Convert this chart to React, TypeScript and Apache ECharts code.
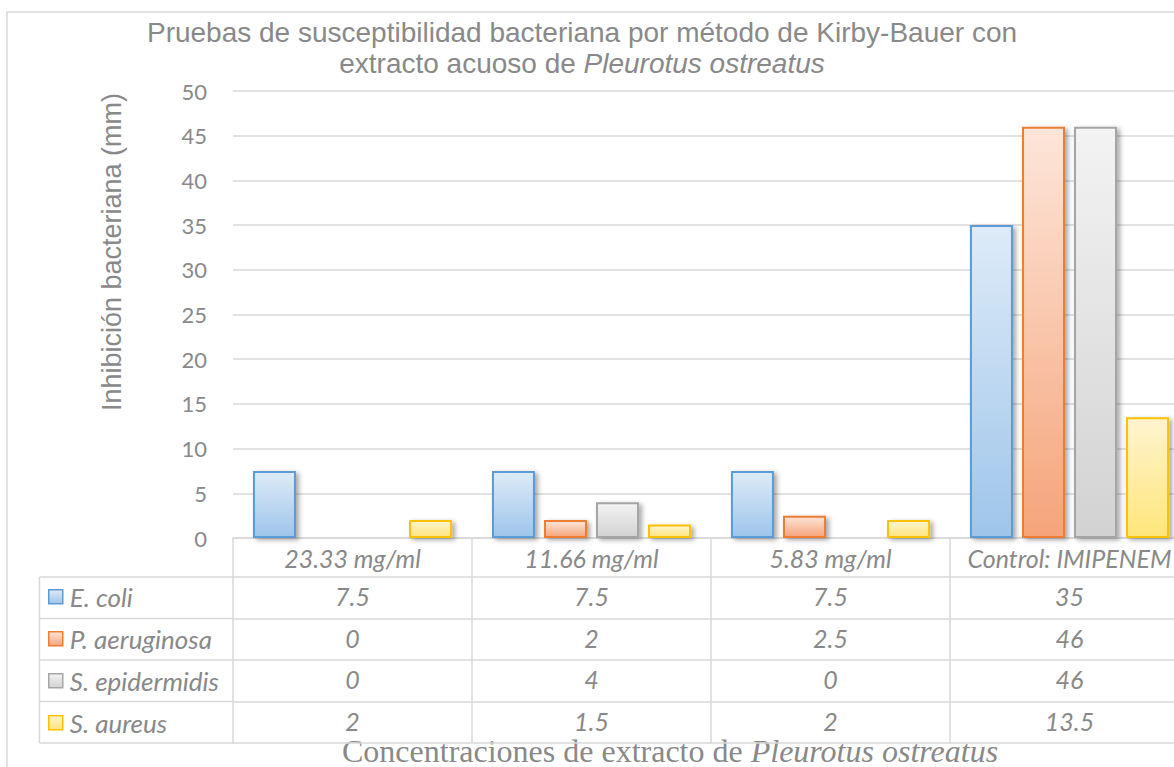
import React, { useEffect, useRef } from "react";
import * as echarts from "echarts";

const categories = ["23.33 mg/ml", "11.66 mg/ml", "5.83 mg/ml", "Control: IMIPENEM"];
const seriesNames = ["E. coli", "P. aeruginosa", "S. epidermidis", "S. aureus"];
const eColi = [7.5, 7.5, 7.5, 35];
const pAeruginosa = [0, 2, 2.5, 46];
const sEpidermidis = [0, 4, 0, 46];
const sAureus = [2, 1.5, 2, 13.5];
const seriesValues = [eColi, pAeruginosa, sEpidermidis, sAureus];
const borderColors = ["#5b9bd5", "#ed7d31", "#a5a5a5", "#ffc000"];
const topColors = ["#deebf8", "#fde6da", "#f3f3f3", "#fff4d0"];
const bottomColors = ["#9ec5ea", "#f5a47a", "#d2d2d2", "#ffe57a"];

const textColor = "#898989";
const lineColor = "#d9d9d9";
const tableFont = "Lato";
const gridLeft = 233;
const gridTop = 91;
const gridWidth = 956;
const gridHeight = 447;
const headerH = 39;
const rowH = 41.5;
const tableLeft = 39.5;

export default function App() {
  const ref = useRef<HTMLDivElement>(null);
  useEffect(() => {
    document.body.style.margin = "0";
    document.body.style.overflow = "hidden";
    document.documentElement.style.overflow = "hidden";
    const chart = echarts.init(ref.current!, null, { renderer: "svg" });
    const gridBottomY = gridTop + gridHeight;
    const tableTop = gridBottomY + headerH;

    const labelStyle = {
      fontSize: 25,
      fontStyle: "italic",
      fontFamily: tableFont,
      color: textColor,
    };

    const rowAxes = seriesValues.map((vals, i) => ({
      type: "category",
      gridIndex: 0,
      position: "bottom",
      offset: headerH + rowH * i,
      data: vals.map((v) => String(v)),
      axisLine: { show: true, lineStyle: { color: lineColor, width: 1.5 } },
      axisTick: { show: true, length: rowH, lineStyle: { color: lineColor, width: 1.5 } },
      axisLabel: { show: true, interval: 0, margin: 6, lineHeight: 26, ...labelStyle },
      splitLine: { show: false },
    }));

    const bottomAxis = {
      type: "category",
      gridIndex: 0,
      position: "bottom",
      offset: headerH + rowH * 4,
      data: categories,
      axisLine: { show: true, lineStyle: { color: lineColor, width: 1.5 } },
      axisTick: { show: false },
      axisLabel: { show: false },
      splitLine: { show: false },
    };

    const lines: any[] = [];
    for (let i = 0; i <= 4; i++) {
      lines.push({
        type: "line",
        shape: { x1: tableLeft, y1: tableTop + rowH * i, x2: gridLeft, y2: tableTop + rowH * i },
        style: { stroke: lineColor, lineWidth: 1.5 },
        z: 1,
      });
    }
    lines.push({
      type: "line",
      shape: { x1: tableLeft, y1: tableTop, x2: tableLeft, y2: tableTop + rowH * 4 },
      style: { stroke: lineColor, lineWidth: 1.5 },
      z: 1,
    });

    chart.setOption({
      animation: false,
      backgroundColor: "#ffffff",
      grid: { left: gridLeft, top: gridTop, width: gridWidth, height: gridHeight, containLabel: false },
      legend: {
        orient: "vertical",
        left: 48,
        top: tableTop + rowH / 2 - 14,
        padding: 0,
        itemGap: rowH - 25.5,
        itemWidth: 14,
        itemHeight: 14,
        icon: "rect",
        selectedMode: false,
        data: seriesNames,
        itemStyle: { borderWidth: 1.5, shadowBlur: 0, shadowColor: "rgba(0,0,0,0)", shadowOffsetX: 0, shadowOffsetY: 0 },
        textStyle: {
          fontSize: 26,
          lineHeight: 24,
          fontStyle: "italic",
          fontFamily: tableFont,
          color: textColor,
          padding: [0, 0, 0, 2],
        },
      },
      xAxis: [
        {
          type: "category",
          gridIndex: 0,
          position: "bottom",
          data: categories,
          axisLine: { show: true, lineStyle: { color: lineColor, width: 1.5 } },
          axisTick: { show: true, length: headerH, lineStyle: { color: lineColor, width: 1.5 } },
          axisLabel: { interval: 0, margin: 0, lineHeight: headerH, ...labelStyle },
          splitLine: { show: false },
        },
        ...rowAxes,
        bottomAxis,
      ],
      yAxis: {
        type: "value",
        min: 0,
        max: 50,
        interval: 5,
        axisLine: { show: false },
        axisTick: { show: false },
        axisLabel: { margin: 26, fontSize: 22, fontFamily: "Lato", color: textColor },
        splitLine: { lineStyle: { color: lineColor, width: 1.5 } },
      },
      series: seriesValues.map((vals, i) => ({
        type: "bar",
        name: seriesNames[i],
        xAxisIndex: 0,
        yAxisIndex: 0,
        barWidth: 43,
        barGap: "21%",
        data: vals.map((v) => (v === 0 ? "-" : v)),
        itemStyle: {
          color: new echarts.graphic.LinearGradient(0, 0, 0, 1, [
            { offset: 0, color: topColors[i] },
            { offset: 1, color: bottomColors[i] },
          ]),
          borderColor: borderColors[i],
          borderWidth: 2,
          shadowBlur: 5,
          shadowColor: "rgba(0,0,0,0.35)",
          shadowOffsetX: 3,
          shadowOffsetY: 2,
        },
        emphasis: { disabled: true },
      })),
      graphic: [
        {
          type: "rect",
          shape: { x: 7, y: 12, width: 1400, height: 1000 },
          style: { fill: "none", stroke: lineColor, lineWidth: 1.5 },
          z: 0,
          silent: true,
        },
        ...lines,
        {
          type: "text",
          x: 582,
          y: 17,
          style: {
            text: "{a|Pruebas de susceptibilidad bacteriana por método de Kirby-Bauer con}\n{a|extracto acuoso de }{b|Pleurotus ostreatus}",
            align: "center",
            verticalAlign: "top",
            rich: {
              a: { fontSize: 28, lineHeight: 31, fontFamily: "Liberation Sans", fill: textColor },
              b: { fontSize: 28, lineHeight: 31, fontFamily: "Liberation Sans", fontStyle: "italic", fill: textColor },
            },
          },
        },
        {
          type: "text",
          x: 112,
          y: 252,
          rotation: Math.PI / 2,
          style: {
            text: "Inhibición bacteriana (mm)",
            align: "center",
            verticalAlign: "middle",
            fontSize: 27,
            fontFamily: "Liberation Sans",
            fill: textColor,
          },
        },
        {
          type: "text",
          x: 342,
          y: 751,
          style: {
            text: "{a|Concentraciones de extracto de }{b|Pleurotus ostreatus}",
            align: "left",
            verticalAlign: "middle",
            rich: {
              a: { fontSize: 32, fontFamily: "Liberation Serif", fill: textColor },
              b: { fontSize: 32, fontFamily: "Liberation Serif", fontStyle: "italic", fill: textColor },
            },
          },
        },
      ],
    });
    return () => chart.dispose();
  }, []);
  return <div ref={ref} style={{ width: 1200, height: 767 }} />;
}
